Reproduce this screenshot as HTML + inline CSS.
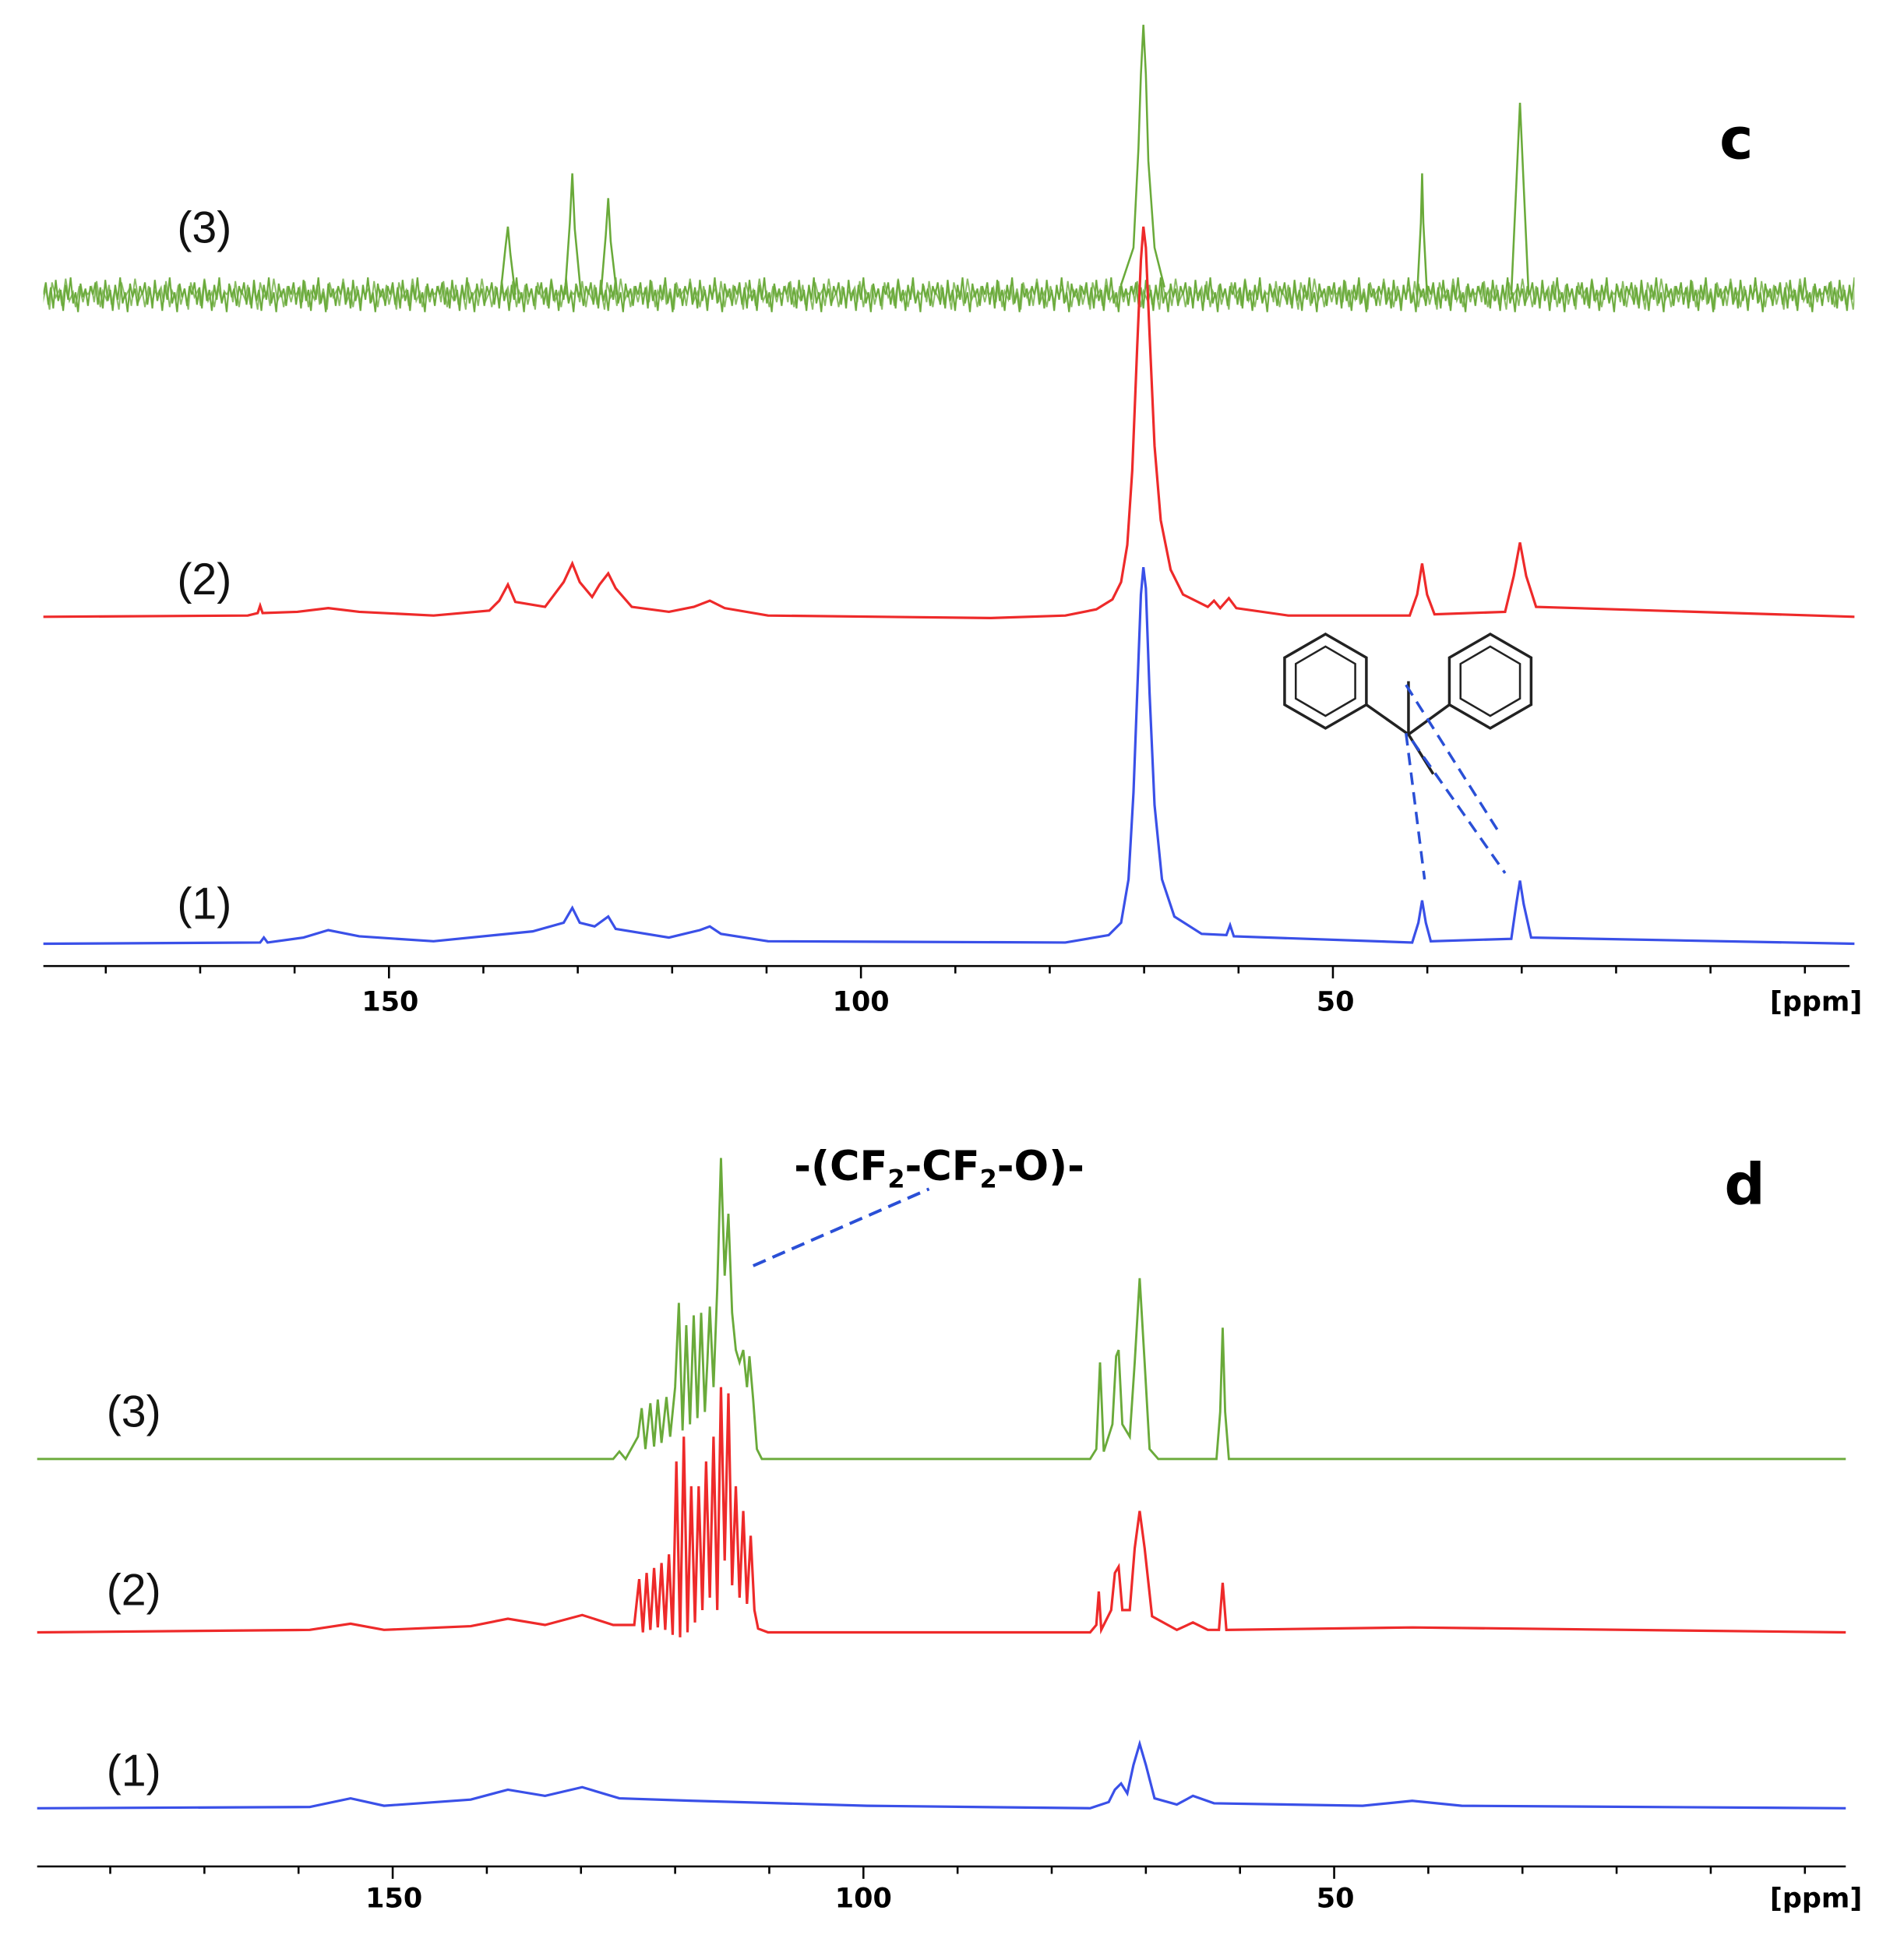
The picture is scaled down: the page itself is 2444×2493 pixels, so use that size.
<!DOCTYPE html>
<html><head><meta charset="utf-8"><style>html,body{margin:0;padding:0;background:#fff}svg{display:block}</style></head>
<body>
<svg width="2444" height="2493" viewBox="0 0 1537 1568" preserveAspectRatio="none" xmlns="http://www.w3.org/2000/svg" font-family="Liberation Sans, DejaVu Sans, sans-serif">
<defs>
<pattern id="nz" x="35" y="218" width="40" height="40" patternUnits="userSpaceOnUse">
<path d="M0 20 L2 10 L4 28 L6 14 L8 31 L10 8 L12 25 L14 16 L16 33 L18 12 L20 24 L22 6 L24 27 L26 18 L28 34 L30 11 L32 22 L34 15 L36 29 L38 13 L40 20" fill="none" stroke="#6aaa3a" stroke-width="1.3"/>
</pattern>
<pattern id="nz2" x="15" y="218" width="56" height="40" patternUnits="userSpaceOnUse">
<path d="M0 20 L3 14 L5 26 L7 9 L10 30 L12 17 L15 24 L17 12 L19 28 L22 15 L25 32 L27 10 L30 22 L33 16 L35 29 L38 7 L41 25 L44 18 L46 30 L49 13 L52 26 L54 17 L56 20" fill="none" stroke="#6aaa3a" stroke-width="1.2"/>
</pattern>
</defs>
<rect width="1537" height="1568" fill="#fff"/>
<rect x="35" y="218" width="1462" height="40" fill="url(#nz)"/>
<rect x="35" y="218" width="1462" height="40" fill="url(#nz2)" opacity="0.8"/>
<g fill="none" stroke="#6aaa3a" stroke-width="1.6">
<path d="M404 238 L408 200 L410 183 L412 205 L416 238"/>
<path d="M456 238 L460 180 L462 140 L464 185 L469 238"/>
<path d="M485 238 L489 190 L491 160 L493 195 L498 238"/>
<path d="M905 230 L915 200 L919 120 L921 60 L923 20 L925 60 L927 130 L932 200 L940 232"/>
<path d="M1144 238 L1147 180 L1148 140 L1149 180 L1152 238"/>
<path d="M1220 238 L1224 150 L1227 83 L1230 150 L1234 238"/>
</g>
<path fill="none" stroke="#ee2a2a" stroke-width="2" d="M35 498 L200 497 L208 495 L210 489 L212 495 L240 494 L265 491 L290 494 L350 497 L395 493 L403 485 L410 472 L416 486 L440 490 L455 470 L462 455 L468 470 L478 482 L484 472 L491 463 L497 475 L510 490 L540 494 L560 490 L573 485 L585 491 L620 497 L800 499 L860 497 L885 492 L898 484 L905 470 L910 440 L914 380 L918 280 L921 210 L923 183 L925 200 L928 270 L932 360 L937 420 L945 460 L955 480 L975 490 L980 485 L985 491 L992 483 L998 491 L1040 497 L1138 497 L1144 480 L1148 455 L1152 480 L1158 496 L1215 494 L1222 465 L1227 438 L1232 465 L1240 490 L1497 498"/>
<path fill="none" stroke="#3a50e8" stroke-width="2" d="M35 762 L210 761 L213 757 L216 761 L245 757 L265 751 L290 756 L350 760 L400 755 L430 752 L455 745 L462 733 L468 745 L480 748 L491 740 L497 750 L540 757 L565 751 L573 748 L582 754 L620 760 L860 761 L895 755 L905 745 L911 710 L915 640 L918 560 L921 480 L923 458 L925 475 L928 560 L932 650 L938 710 L948 740 L970 754 L990 755 L993 747 L996 756 L1140 761 L1145 745 L1148 727 L1151 745 L1155 760 L1220 758 L1224 730 L1227 711 L1230 730 L1236 757 L1497 762"/>
<path fill="none" stroke="#6aaa3a" stroke-width="1.8" d="M30 1178 L495 1178 L500 1172 L505 1178 L515 1160 L518 1137 L521 1170 L525 1133 L528 1168 L531 1130 L534 1165 L538 1128 L541 1160 L545 1120 L548 1052 L551 1155 L554 1070 L557 1150 L560 1062 L563 1145 L566 1060 L569 1140 L571 1100 L573 1055 L576 1120 L579 1040 L582 935 L585 1030 L588 980 L591 1060 L594 1090 L597 1100 L600 1090 L603 1120 L605 1095 L608 1130 L611 1170 L615 1178 L880 1178 L885 1170 L888 1100 L891 1172 L898 1150 L901 1095 L903 1090 L906 1150 L912 1160 L916 1100 L920 1032 L924 1100 L928 1170 L935 1178 L982 1178 L985 1140 L987 1072 L989 1140 L992 1178 L1490 1178"/>
<path fill="none" stroke="#ee2a2a" stroke-width="2" d="M30 1318 L250 1316 L283 1311 L310 1316 L380 1313 L410 1307 L440 1312 L470 1304 L495 1312 L512 1312 L516 1275 L519 1318 L522 1270 L525 1316 L528 1266 L531 1314 L534 1262 L537 1316 L540 1255 L543 1320 L546 1180 L549 1322 L552 1160 L555 1318 L558 1200 L561 1310 L564 1200 L567 1300 L570 1180 L573 1290 L576 1160 L579 1300 L582 1120 L585 1260 L588 1125 L591 1280 L594 1200 L597 1290 L600 1220 L603 1295 L606 1240 L609 1300 L612 1315 L620 1318 L880 1318 L885 1312 L887 1285 L889 1316 L897 1300 L900 1270 L903 1265 L906 1300 L912 1300 L916 1250 L920 1220 L924 1250 L930 1305 L950 1316 L963 1310 L975 1316 L984 1316 L987 1278 L990 1316 L1140 1314 L1490 1318"/>
<path fill="none" stroke="#3a50e8" stroke-width="2" d="M30 1460 L250 1459 L283 1452 L310 1458 L380 1453 L410 1445 L440 1450 L470 1443 L500 1452 L560 1454 L700 1458 L880 1460 L895 1455 L900 1445 L905 1440 L910 1448 L915 1425 L920 1408 L925 1425 L932 1452 L950 1457 L963 1450 L980 1456 L1100 1458 L1140 1454 L1180 1458 L1490 1460"/>
<g stroke="#000" stroke-width="1.6" fill="none">
<path d="M35 780 H1493 M30 1507 H1490"/>
<path d="M85.4 780v6 M161.6 780v6 M237.8 780v6 M314 780v10 M390.2 780v6 M466.4 780v6 M542.6 780v6 M618.8 780v6 M695 780v10 M771.2 780v6 M847.4 780v6 M923.6 780v6 M999.8 780v6 M1076 780v10 M1152.2 780v6 M1228.4 780v6 M1304.6 780v6 M1380.8 780v6 M1457 780v6"/>
<path d="M89 1507v6 M165 1507v6 M241 1507v6 M317 1507v10 M393 1507v6 M469 1507v6 M545 1507v6 M621 1507v6 M697 1507v10 M773 1507v6 M849 1507v6 M925 1507v6 M1001 1507v6 M1077 1507v10 M1153 1507v6 M1229 1507v6 M1305 1507v6 M1381 1507v6 M1457 1507v6"/>
</g>
<g font-weight="bold" font-size="22" font-family="DejaVu Sans, sans-serif" text-anchor="middle">
<text x="315" y="816">150</text><text x="695" y="816">100</text><text x="1078" y="816">50</text>
<text x="1466" y="816">[ppm]</text>
<text x="318" y="1540">150</text><text x="697" y="1540">100</text><text x="1078" y="1540">50</text>
<text x="1466" y="1540">[ppm]</text>
</g>
<g font-size="36" fill="#111">
<text x="143" y="196">(3)</text><text x="143" y="480">(2)</text><text x="143" y="742">(1)</text>
<text x="86" y="1152">(3)</text><text x="86" y="1296">(2)</text><text x="86" y="1442">(1)</text>
</g>
<text x="1388" y="128" font-size="46" font-weight="bold" font-family="DejaVu Sans, sans-serif">c</text>
<text x="1392" y="972" font-size="46" font-weight="bold" font-family="DejaVu Sans, sans-serif">d</text>
<text x="641" y="953" font-size="33" font-weight="bold" font-family="DejaVu Sans, sans-serif">-(CF<tspan font-size="20" dy="6">2</tspan><tspan dy="-6">-CF</tspan><tspan font-size="20" dy="6">2</tspan><tspan dy="-6">-O)-</tspan></text>
<line x1="608" y1="1022" x2="750" y2="960" stroke="#2a4fd6" stroke-width="2.5" stroke-dasharray="11,6"/>
<g stroke="#222" stroke-width="2.2" fill="none">
<polygon points="1070,512 1103,531 1103,569 1070,588 1037,569 1037,531"/>
<polygon points="1070,522 1094,536 1094,564 1070,578 1046,564 1046,536" stroke-width="1.6"/>
<polygon points="1203,512 1236,531 1236,569 1203,588 1170,569 1170,531"/>
<polygon points="1203,522 1227,536 1227,564 1203,578 1179,564 1179,536" stroke-width="1.6"/>
<line x1="1103" y1="569" x2="1137" y2="593"/><line x1="1170" y1="569" x2="1137" y2="593"/>
<line x1="1137" y1="593" x2="1137" y2="550"/><line x1="1137" y1="593" x2="1157" y2="625"/>
</g>
<g stroke="#2a4fd6" stroke-width="2.2" stroke-dasharray="10,6">
<line x1="1135" y1="553" x2="1210" y2="672"/><line x1="1135" y1="592" x2="1150" y2="710"/><line x1="1140" y1="598" x2="1215" y2="705"/>
</g>
</svg>
</body></html>
